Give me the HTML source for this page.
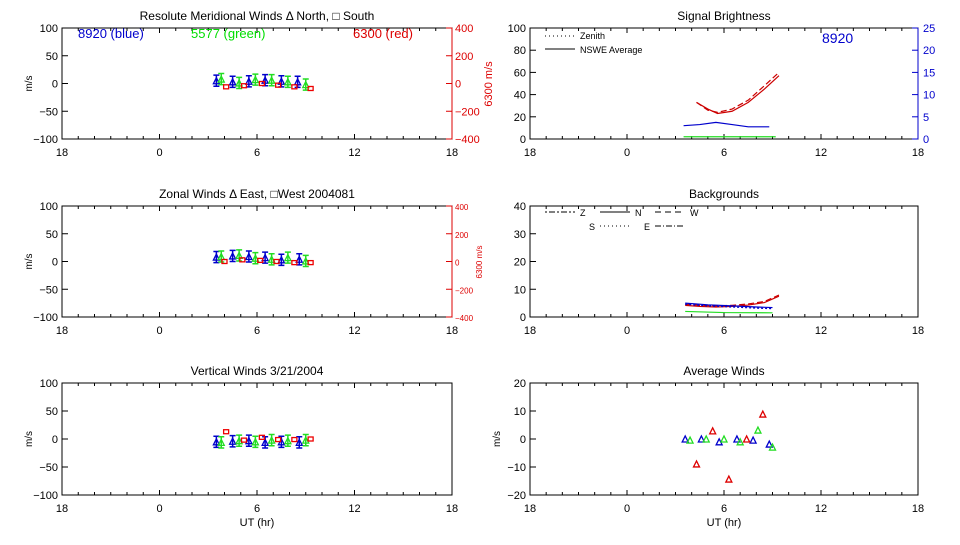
<!DOCTYPE html>
<html><head><meta charset="utf-8"><style>
body{margin:0;background:#fff;width:960px;height:540px;overflow:hidden}
svg{font-family:"Liberation Sans",sans-serif}
</style></head><body>
<svg id="c" width="960" height="540" viewBox="0 0 960 540"></svg>
<script>
// ---- data ----
const merBlueT=[3.5,4.5,5.5,6.5,7.5,8.5];
const merBlueV=[5,3,4,6,4,3];
const merGreenT=[3.8,4.9,5.9,6.9,7.9,9.0];
const merGreenV=[8,1,7,6,3,-2];
const merRedT=[4.1,5.2,6.3,7.3,8.3,9.3];
const merRedV=[-6,-4,0,-3,-6,-9];
const zonBlueT=[3.5,4.5,5.5,6.5,7.5,8.6];
const zonBlueV=[8,10,9,7,3,4];
const zonGreenT=[3.8,4.9,5.9,6.9,7.9,9.0];
const zonGreenV=[9,11,6,4,7,1];
const zonRedT=[4.0,5.1,6.2,7.2,8.3,9.3];
const zonRedV=[0,3,2,0,-2,-2];
const verBlueT=[3.5,4.5,5.5,6.5,7.5,8.6];
const verBlueV=[-5,-4,-3,-6,-5,-6];
const verGreenT=[3.8,4.9,5.9,6.9,7.9,9.0];
const verGreenV=[-6,-3,-5,-2,-3,-2];
const verRedT=[4.1,5.2,6.3,7.3,8.3,9.3];
const verRedV=[13,-2,3,-1,-1,0];
const brRedT=[4.3,5.0,5.6,6.5,7.5,8.5,9.4];
const brRedV=[33,27,23,25,33,45,57];
const brRed2V=[33,26,24,27,35,48,60];
const brBlueT=[3.5,4.5,5.5,6.5,7.5,8.8];
const brBlueV=[12,13,15,13,11,11];
const brGreenT=[3.5,6,9.2];
const brGreenV=[2,2,2];
const bgRedT=[3.6,4.5,5.5,6.5,7.5,8.5,9.4];
const bgRedV=[4.2,3.8,3.6,3.8,4.3,5.2,7.5];
const bgBlueT=[3.6,5,6.5,8,9];
const bgBlueV=[5,4.4,4,3.6,3.4];
const bgGreenT=[3.6,6,9];
const bgGreenV=[2,1.6,1.5];
const avBlueT=[3.6,4.6,5.7,6.8,7.8,8.8];
const avBlueV=[0,0,-1,0,-0.4,-1.8];
const avGreenT=[3.9,4.9,6.0,7.0,8.1,9.0];
const avGreenV=[-0.4,0,0,-1,3.2,-2.9];
const avRedT=[4.3,5.3,6.3,7.4,8.4];
const avRedV=[-8.9,2.9,-14.3,0,8.9];
const xTicks=["18","0","6","12","18"];

const svg=document.getElementById('c');
const NS='http://www.w3.org/2000/svg';
function mk(tag,attrs,name,txt){const e=document.createElementNS(NS,tag);for(const k in attrs)e.setAttribute(k,attrs[k]);


if(txt!==undefined)e.textContent=txt;svg.appendChild(e);return e;}
function panel(x0,x1,y0,y1,ymin,ymax,yt,title,name,ylab,showLab){
 const sx=t=>x0+(t+6)*(x1-x0)/24, sy=v=>y1-(v-ymin)*(y1-y0)/(ymax-ymin);
 mk('rect',{x:x0,y:y0,width:x1-x0,height:y1-y0,fill:'none',stroke:'#000','stroke-width':1},name+'-frame');
 for(let h=-6;h<=18;h++){const big=h%6===0,L=big?5:3;
  mk('line',{x1:sx(h),x2:sx(h),y1:y1,y2:y1-L,stroke:'#000'},name+'-xtick');
  mk('line',{x1:sx(h),x2:sx(h),y1:y0,y2:y0+L,stroke:'#000'},name+'-xtick-top');}
 xTicks.forEach((l,i)=>mk('text',{x:sx(-6+6*i),y:y1+17,'text-anchor':'middle','font-size':11},name+'-xlabel',l));
 yt.forEach(v=>{mk('line',{x1:x0,x2:x0+6,y1:sy(v),y2:sy(v),stroke:'#000'},name+'-ytick');
  mk('text',{x:x0-4,y:sy(v)+4,'text-anchor':'end','font-size':11},name+'-ylabel',v<0?'\u2212'+(-v):v);});
 mk('text',{x:(x0+x1)/2,y:y0-8,'text-anchor':'middle','font-size':12},name+'-title',title);
 if(ylab)mk('text',{x:0,y:0,transform:`translate(${x0-30},${(y0+y1)/2}) rotate(-90)`,'text-anchor':'middle','font-size':10},name+'-y-axis-title',ylab);
 if(showLab)mk('text',{x:(x0+x1)/2,y:526,'text-anchor':'middle','font-size':11},name+'-x-axis-title','UT (hr)');
 return {sx,sy};
}
function tri(x,y,c,n){mk('path',{d:`M${x-3},${y+3}L${x+3},${y+3}L${x},${y-3}Z`,fill:'none',stroke:c,'stroke-width':1.3},n);}
function winds(p,T,V,c,n,err){T.forEach((t,i)=>{const x=p.sx(t),y=p.sy(V[i]);
 if(err){const e=Math.abs(p.sy(0)-p.sy(10));mk('path',{d:`M${x},${y-e}V${y+e}M${x-3},${y-e}H${x+3}M${x-3},${y+e}H${x+3}`,stroke:c,'stroke-width':1.5,fill:'none'},n+'-errorbar');tri(x,y,c,n+'-point');}
 else mk('rect',{x:x-2.5,y:y-2,width:5,height:4,fill:'none',stroke:c,'stroke-width':1.3},n+'-point');});}
function line(p,T,V,c,n,dash){mk('polyline',{points:T.map((t,i)=>p.sx(t)+','+p.sy(V[i])).join(' '),fill:'none',stroke:c,'stroke-width':1.2,'stroke-dasharray':dash||''},n);}
function redAxis(x,y0,y1,labels,name,fs){labels.forEach((l,i)=>{const y=y0+i*(y1-y0)/(labels.length-1);
 mk('line',{x1:x,x2:x-6,y1:y,y2:y,stroke:'#d00'},name+'-tick');
 mk('text',{x:x+3,y:y+4,'font-size':fs,fill:'#d00'},name+'-label',l);});
 mk('line',{x1:x,x2:x,y1:y0,y2:y1,stroke:'#d00'},name+'-line');}

// Meridional
let p=panel(62,452,28,139,-100,100,[100,50,0,-50,-100],'Resolute Meridional Winds \u0394 North, \u25A1 South','meridional','m/s');
redAxis(452,28,139,['400','200','0','\u2212200','\u2212400'],'meridional-red-axis',11);
mk('text',{x:0,y:0,transform:'translate(492,84) rotate(-90)','text-anchor':'middle','font-size':11,fill:'#d00'},'meridional-red-axis-title','6300 m/s');
mk('text',{x:78,y:38,'font-size':13,fill:'#00c'},'legend-8920','8920 (blue)');
mk('text',{x:191,y:38,'font-size':13,fill:'#0d0'},'legend-5577','5577 (green)');
mk('text',{x:353,y:38,'font-size':13,fill:'#d00'},'legend-6300','6300 (red)');
winds(p,merBlueT,merBlueV,'#00c','meridional-blue',1);winds(p,merGreenT,merGreenV,'#2d2','meridional-green',1);winds(p,merRedT,merRedV,'#e00','meridional-red',0);
// Zonal
p=panel(62,452,206,317,-100,100,[100,50,0,-50,-100],'Zonal Winds \u0394 East, \u25A1West 2004081','zonal','m/s');
redAxis(452,206,317,['400','200','0','\u2212200','\u2212400'],'zonal-red-axis',8);
mk('text',{x:0,y:0,transform:'translate(482,262) rotate(-90)','text-anchor':'middle','font-size':8,fill:'#d00'},'zonal-red-axis-title','6300 m/s');
winds(p,zonBlueT,zonBlueV,'#00c','zonal-blue',1);winds(p,zonGreenT,zonGreenV,'#2d2','zonal-green',1);winds(p,zonRedT,zonRedV,'#e00','zonal-red',0);
// Vertical
p=panel(62,452,383,495,-100,100,[100,50,0,-50,-100],'Vertical Winds 3/21/2004','vertical','m/s',1);
winds(p,verBlueT,verBlueV,'#00c','vertical-blue',1);winds(p,verGreenT,verGreenV,'#2d2','vertical-green',1);winds(p,verRedT,verRedV,'#e00','vertical-red',0);
// Brightness
p=panel(530,918,28,139,0,100,[100,80,60,40,20,0],'Signal Brightness','brightness');
[0,5,10,15,20,25].forEach(v=>{const y=139-v*111/25;mk('line',{x1:918,x2:912,y1:y,y2:y,stroke:'#00c'},'brightness-right-tick');
 mk('text',{x:923,y:y+4,'font-size':11,fill:'#00c'},'brightness-right-label',v);});
mk('line',{x1:918,x2:918,y1:28,y2:139,stroke:'#00c'},'brightness-right-axis');
mk('line',{x1:545,x2:575,y1:36,y2:36,stroke:'#000','stroke-dasharray':'1,3'},'legend-zenith-line');
mk('text',{x:580,y:39,'font-size':9},'legend-zenith','Zenith');
mk('line',{x1:545,x2:575,y1:49,y2:49,stroke:'#000'},'legend-nswe-line');
mk('text',{x:580,y:53,'font-size':9},'legend-nswe','NSWE Average');
mk('text',{x:822,y:43,'font-size':14,fill:'#00c'},'brightness-label-8920','8920');
line(p,brRedT,brRedV,'#c00','brightness-red');line(p,brRedT,brRed2V,'#c00','brightness-red-dashed','6,3');
line(p,brBlueT,brBlueV,'#00c','brightness-blue');line(p,brGreenT,brGreenV,'#2d2','brightness-green');
// Backgrounds
p=panel(530,918,206,317,0,40,[40,30,20,10,0],'Backgrounds','backgrounds');
[['Z','2,2,6,2',545,212],['N','',600,212],['W','6,4',655,212],['S','1,3',600,226],['E','6,2,1,2',655,226]].forEach(([l,d,x,y],i)=>{
 mk('line',{x1:x,x2:x+30,y1:y,y2:y,stroke:'#000','stroke-dasharray':d},'legend-bg-'+l+'-line');
 mk('text',{x:x+(i<3?35:-5),y:y+4,'font-size':9,'text-anchor':i<3?'start':'end'},'legend-bg-'+l,l);});
line(p,bgRedT,bgRedV,'#c00','background-red');line(p,bgRedT,bgRedV.map(v=>v+0.4),'#c00','background-red-dashed','6,3');
line(p,bgBlueT,bgBlueV,'#00c','background-blue');line(p,bgBlueT,bgBlueV.map(v=>v-0.4),'#00c','background-blue-dashed','2,2');
line(p,bgGreenT,bgGreenV,'#2d2','background-green');
// Average
p=panel(530,918,383,495,-20,20,[20,10,0,-10,-20],'Average Winds','average','m/s',1);
avBlueT.forEach((t,i)=>tri(p.sx(t),p.sy(avBlueV[i]),'#00c','average-blue-point'));
avGreenT.forEach((t,i)=>tri(p.sx(t),p.sy(avGreenV[i]),'#2d2','average-green-point'));
avRedT.forEach((t,i)=>tri(p.sx(t),p.sy(avRedV[i]),'#d00','average-red-point'));
</script>
</body></html>
